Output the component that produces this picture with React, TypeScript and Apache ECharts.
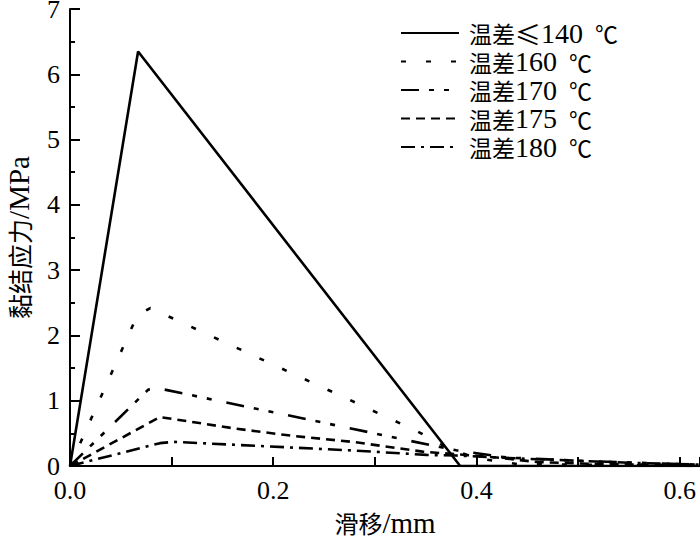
import React, { useEffect, useRef } from "react";
import * as echarts from "echarts";

const seriesNames = ["温差≤140 ℃", "温差160 ℃", "温差170 ℃", "温差175 ℃", "温差180 ℃"];

const s140 = [[0, 0], [0.067, 6.35], [0.384, 0], [0.62, 0]];
const s160 = [[0, 0], [0.066, 2.3], [0.079, 2.42], [0.27, 1.05], [0.342, 0.53], [0.372, 0.27], [0.4, 0.12], [0.44, 0.03], [0.62, 0]];
const s170 = [[0, 0], [0.077, 1.17], [0.087, 1.19], [0.275, 0.58], [0.33, 0.4], [0.38, 0.24], [0.43, 0.13], [0.5, 0.08], [0.62, 0.02]];
const s175 = [[0, 0], [0.0885, 0.75], [0.164, 0.57], [0.22, 0.46], [0.278, 0.37], [0.347, 0.22], [0.38, 0.18], [0.42, 0.13], [0.46, 0.06], [0.52, 0.03], [0.62, 0.01]];
const s180 = [[0, 0], [0.0885, 0.35], [0.102, 0.37], [0.282, 0.235], [0.351, 0.17], [0.38, 0.16], [0.45, 0.11], [0.55, 0.05], [0.62, 0.02]];

const allData = [s140, s160, s170, s175, s180];
const dashes: (string | number[])[] = ["solid", [5, 20], [18, 10, 5, 10, 5, 15], [9, 6], [14, 6, 3, 6]];

const SERIF = "'Liberation Serif', 'Times New Roman', serif";
const CJK = "'Noto Sans CJK SC', sans-serif";

// split a legend name into rich-text runs: CJK part, optional ≤, number, ℃
function richName(name: string): string {
  const m = name.match(/^([\u4e00-\u9fff]+)(≤?)([0-9]+) ℃$/);
  if (!m) return name;
  return `{c|${m[1]}}` + (m[2] ? `{le|${m[2]}}` : "") + `{n|${m[3]}}{sp| }{deg|℃}`;
}

export default function App() {
  const ref = useRef<HTMLDivElement>(null);
  useEffect(() => {
    if (!ref.current) return;
    const chart = echarts.init(ref.current, null, { renderer: "svg" });
    chart.setOption({
      animation: false,
      backgroundColor: "#fff",
      grid: { left: 70, right: 0, top: 9, bottom: 76, outerBoundsMode: "none", containLabel: false },
      legend: {
        left: 400,
        top: 19,
        padding: 0,
        orient: "vertical",
        itemWidth: 58,
        itemHeight: 14,
        itemGap: 0.5,
        data: seriesNames,
        itemStyle: { opacity: 0 },
        formatter: (name: string) => richName(name),
        textStyle: {
          color: "#000",
          padding: [0, 0, 0, 5],
          rich: {
            c: { fontFamily: CJK, fontSize: 23, lineHeight: 28, color: "#000" },
            le: { fontFamily: CJK, fontSize: 26, lineHeight: 28, color: "#000" },
            n: { fontFamily: SERIF, fontSize: 28, lineHeight: 28, color: "#000" },
            sp: { fontFamily: SERIF, fontSize: 28, lineHeight: 28, color: "#000", width: 12 },
            deg: { fontFamily: CJK, fontSize: 23, lineHeight: 28, color: "#000" },
          },
        },
      },
      xAxis: {
        type: "value",
        min: 0,
        max: 0.62,
        interval: 0.1,
        name: "{c|滑移}{n|/mm}",
        nameLocation: "middle",
        nameGap: 42,
        nameTextStyle: {
          color: "#000",
          rich: {
            c: { fontFamily: CJK, fontSize: 24, color: "#000" },
            n: { fontFamily: SERIF, fontSize: 29, color: "#000" },
          },
        },
        axisLine: { show: true, lineStyle: { color: "#000", width: 2 } },
        axisTick: { show: true, inside: true, length: 9, lineStyle: { color: "#000", width: 2 } },
        splitLine: { show: false },
        axisLabel: {
          fontFamily: SERIF,
          fontSize: 26,
          color: "#000",
          margin: 11,
          formatter: (v: number) => {
            const r = v / 0.2;
            return Math.abs(r - Math.round(r)) < 1e-6 ? v.toFixed(1) : "";
          },
        },
      },
      yAxis: {
        type: "value",
        min: 0,
        max: 7,
        interval: 1,
        name: "{c|黏结应力}{n|/MPa}",
        nameLocation: "middle",
        nameGap: 37,
        nameTextStyle: {
          color: "#000",
          rich: {
            c: { fontFamily: CJK, fontSize: 25, color: "#000" },
            n: { fontFamily: SERIF, fontSize: 29, color: "#000" },
          },
        },
        axisLine: { show: true, lineStyle: { color: "#000", width: 2 } },
        axisTick: { show: true, inside: true, length: 10, lineStyle: { color: "#000", width: 2 } },
        minorTick: { show: true, splitNumber: 2, length: 5, lineStyle: { color: "#000", width: 2 } },
        splitLine: { show: false },
        minorSplitLine: { show: false },
        axisLabel: { fontFamily: SERIF, fontSize: 26, color: "#000", margin: 10 },
      },
      series: allData.map((d, i) => ({
        name: seriesNames[i],
        type: "line",
        data: d,
        symbol: "none",
        lineStyle: { color: "#000", width: 2.6, type: dashes[i] },
        itemStyle: { color: "#000" },
      })),
    });
    return () => chart.dispose();
  }, []);
  return <div ref={ref} style={{ width: 700, height: 542, position: "absolute", left: 0, top: 0 }} />;
}
